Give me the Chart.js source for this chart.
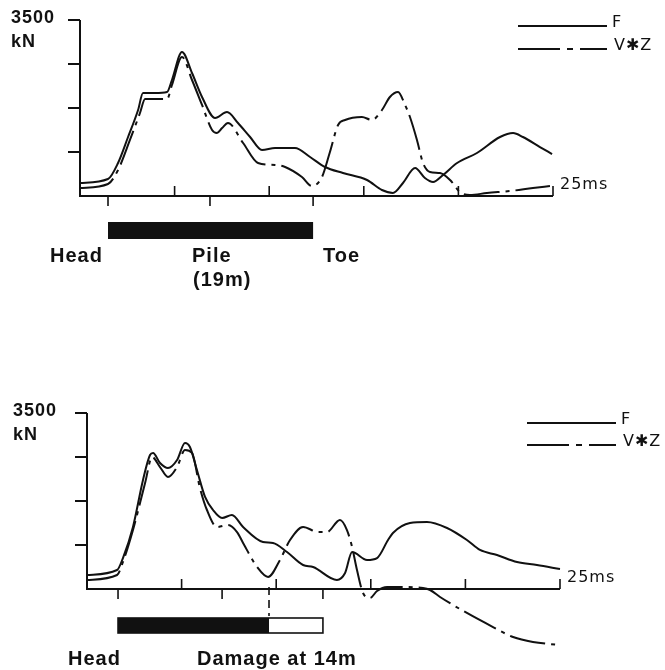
<!DOCTYPE html>
<html>
<head>
<meta charset="utf-8">
<script src="https://cdn.jsdelivr.net/npm/chart.js@4.4.0/dist/chart.umd.min.js"></script>
<style>
  html, body { margin: 0; padding: 0; background: #fff; }
  #wrap { position: relative; width: 665px; height: 670px; }
  canvas { position: absolute; left: 0; }
  #topChart { top: 0; }
  #botChart { top: 335px; }
</style>
</head>
<body>
<div id="wrap">
  <canvas id="topChart" width="665" height="335"></canvas>
  <canvas id="botChart" width="665" height="335"></canvas>
</div>
<script>
// time in ms, force in kN
const yTicks = [875, 1750, 2625, 3500];
const timeTicks = [5, 10, 15, 20, 25];

// upper record : intact pile
const topFTime = [0, 1.48, 2.01, 2.54, 3.07, 3.33, 3.96, 4.6, 4.86, 5.39, 5.92, 6.45, 7.14, 7.77, 8.35, 8.99, 9.62, 10.31, 11.36, 12.16, 12.95, 13.9, 15.17, 15.96, 16.54, 17.07, 17.71, 18.23, 18.66, 19.19, 19.93, 20.98, 22.2, 22.89, 23.41, 24.31, 24.95];
const topF = [259, 338, 656, 1173, 1710, 2048, 2048, 2068, 2307, 2864, 2446, 1969, 1551, 1670, 1452, 1173, 915, 955, 955, 776, 577, 457, 318, 119, 60, 259, 557, 358, 278, 418, 656, 855, 1173, 1253, 1173, 974, 835];
const topVTime = [0, 1.48, 2.01, 2.64, 3.17, 3.44, 4.6, 4.86, 5.39, 5.92, 6.45, 6.98, 7.24, 7.51, 7.82, 8.62, 9.41, 10.31, 10.84, 11.73, 12.26, 12.79, 13.21, 13.64, 14.01, 14.9, 15.43, 15.96, 16.38, 16.81, 17.18, 17.44, 17.81, 18.13, 18.5, 19.03, 19.56, 20.08, 20.61, 21.51, 22.73, 23.94, 24.84];
const topV = [159, 239, 517, 1114, 1651, 1929, 1929, 2207, 2764, 2307, 1810, 1312, 1253, 1352, 1452, 1054, 656, 616, 577, 378, 199, 378, 875, 1412, 1511, 1571, 1511, 1710, 1969, 2068, 1810, 1571, 1114, 656, 477, 457, 318, 80, 20, 60, 99, 159, 199];
const topMarks = [1.48, 6.87, 12.32];   // head, mid, toe

// lower record : damaged pile
const botFTime = [0, 1.59, 1.9, 2.43, 2.96, 3.33, 3.49, 3.86, 4.28, 4.76, 5.18, 5.44, 5.81, 6.24, 6.66, 7.14, 7.66, 8.25, 9.3, 9.83, 10.57, 11.42, 11.95, 13.21, 13.64, 14.01, 14.8, 15.33, 15.91, 16.17, 17.07, 17.97, 19.03, 20.08, 20.77, 21.67, 22.73, 23.78, 25];
const botF = [278, 378, 616, 1233, 2168, 2665, 2705, 2506, 2406, 2565, 2903, 2824, 2366, 1830, 1571, 1412, 1472, 1233, 935, 915, 736, 477, 437, 179, 318, 736, 577, 616, 974, 1114, 1312, 1332, 1213, 974, 776, 676, 537, 477, 398];
const botVTime = [0, 1.59, 1.9, 2.43, 3.07, 3.44, 3.86, 4.28, 4.76, 5.18, 5.55, 5.97, 6.34, 6.87, 7.45, 7.93, 8.25, 8.99, 9.57, 10.2, 10.73, 11.42, 12.21, 12.68, 13.37, 13.74, 14.01, 14.27, 14.59, 14.96, 15.33, 15.86, 16.54, 17.76, 18.13, 18.66, 20.08, 21.46, 22.52, 23.57, 25];
const botV = [179, 278, 537, 1173, 2108, 2625, 2426, 2227, 2426, 2764, 2705, 2008, 1571, 1233, 1273, 1133, 915, 437, 239, 577, 974, 1233, 1133, 1133, 1372, 1173, 835, 378, -80, -179, -40, 40, 40, 20, -20, -159, -477, -756, -955, -1054, -1114];
const botMarks = [1.64, 7.14, 12.47];
const damageAt = 9.62;

function pairs(t, v) {
  return t.map((x, i) => ({ x: x, y: v[i] }));
}

const INK = '#111';

// axes, legend and pile sketch under the plot
const pileSketch = {
  id: 'pileSketch',
  afterDraw(chart, args, o) {
    const { ctx } = chart;
    const x = chart.scales.x, y = chart.scales.y;
    const x0 = x.getPixelForValue(0), x1 = x.getPixelForValue(25);
    const y0 = y.getPixelForValue(0), yTop = y.getPixelForValue(3500);

    ctx.save();
    ctx.strokeStyle = INK;
    ctx.fillStyle = INK;
    ctx.lineWidth = 2;
    ctx.lineCap = 'butt';

    // axis lines
    ctx.beginPath();
    ctx.moveTo(x0, yTop);
    ctx.lineTo(x0, y0);
    ctx.lineTo(x1, y0);
    ctx.stroke();

    // y ticks pointing left
    yTicks.forEach(v => {
      const py = y.getPixelForValue(v);
      ctx.beginPath();
      ctx.moveTo(x0 - 12, py);
      ctx.lineTo(x0, py);
      ctx.stroke();
    });

    // time ticks up
    ctx.lineWidth = 1.6;
    timeTicks.forEach(t => {
      const px = x.getPixelForValue(t);
      ctx.beginPath();
      ctx.moveTo(px, y0);
      ctx.lineTo(px, y0 - 10);
      ctx.stroke();
    });
    // pile ticks down
    o.marks.forEach(t => {
      const px = x.getPixelForValue(t);
      ctx.beginPath();
      ctx.moveTo(px, y0);
      ctx.lineTo(px, y0 + 10);
      ctx.stroke();
    });

    // pile bar
    const hx = x.getPixelForValue(o.marks[0]);
    const tx = x.getPixelForValue(o.marks[2]);
    if (o.damage != null) {
      const dx = x.getPixelForValue(o.damage);
      ctx.fillRect(hx, o.barTop, dx - hx, o.barH);
      ctx.lineWidth = 1.6;
      ctx.strokeRect(hx, o.barTop, tx - hx, o.barH);
      ctx.setLineDash([8, 5]);
      ctx.beginPath();
      ctx.moveTo(dx, y0 - 2);
      ctx.lineTo(dx, o.barTop - 2);
      ctx.stroke();
      ctx.setLineDash([]);
    } else {
      ctx.fillRect(hx, o.barTop, tx - hx, o.barH);
    }

    // legend
    ctx.lineWidth = 2;
    ctx.beginPath();
    ctx.moveTo(o.legX, o.legY1);
    ctx.lineTo(o.legX + 89, o.legY1);
    ctx.stroke();
    ctx.setLineDash([42, 7, 6, 7, 28]);
    ctx.beginPath();
    ctx.moveTo(o.legX, o.legY2);
    ctx.lineTo(o.legX + 89, o.legY2);
    ctx.stroke();
    ctx.setLineDash([]);

    ctx.textBaseline = 'alphabetic';
    ctx.textAlign = 'left';
    ctx.font = '16px "DejaVu Sans"';
    ctx.letterSpacing = '1px';
    ctx.fillText('F', o.legX + 94, o.legY1 + 1);
    ctx.fillText('V\u2731Z', o.legX + 96, o.legY2 + 1);
    ctx.fillText('25ms', x1 + 7, y0 - 7);

    // bold labels
    ctx.font = 'bold 18px "Liberation Sans"';
    ctx.letterSpacing = '1px';
    ctx.fillText('3500', o.unitX, yTop + 3);
    ctx.fillText('kN', o.unitX, yTop + 27);
    ctx.font = 'bold 20px "Liberation Sans"';
    o.labels.forEach(l => ctx.fillText(l[0], l[1], l[2]));
    ctx.restore();
  }
};

function makeChart(id, fT, f, vT, v, yMin, pad, sketch) {
  return new Chart(document.getElementById(id), {
    type: 'line',
    data: {
      datasets: [
        {
          label: 'F',
          data: pairs(fT, f),
          borderColor: INK,
          borderWidth: 2,
          pointRadius: 0,
          cubicInterpolationMode: 'monotone',
          clip: false
        },
        {
          label: 'V*Z',
          data: pairs(vT, v),
          borderColor: INK,
          borderWidth: 2,
          borderDash: [36, 6, 4, 6],
          pointRadius: 0,
          cubicInterpolationMode: 'monotone',
          clip: false
        }
      ]
    },
    options: {
      responsive: false,
      animation: false,
      events: [],
      layout: { autoPadding: false, padding: pad },
      scales: {
        x: { type: 'linear', min: 0, max: 25, display: false },
        y: { min: yMin, max: 3500, display: false }
      },
      plugins: {
        legend: { display: false },
        tooltip: { enabled: false },
        pileSketch: sketch
      }
    },
    plugins: [pileSketch]
  });
}

makeChart('topChart', topFTime, topF, topVTime, topV, 0,
  { left: 80, right: 112, top: 20, bottom: 139 },
  {
    marks: topMarks, damage: null, barTop: 222, barH: 17,
    legX: 518, legY1: 26, legY2: 49, unitX: 11,
    labels: [['Head', 50, 262], ['Pile', 192, 262], ['(19m)', 193, 286], ['Toe', 323, 262]]
  });

makeChart('botChart', botFTime, botF, botVTime, botV, -1300,
  { left: 87, right: 105, top: 78, bottom: 15.63 },
  {
    marks: botMarks, damage: damageAt, barTop: 283, barH: 15,
    legX: 527, legY1: 88, legY2: 110, unitX: 13,
    labels: [['Head', 68, 330], ['Damage at 14m', 197, 330]]
  });
</script>
</body>
</html>
